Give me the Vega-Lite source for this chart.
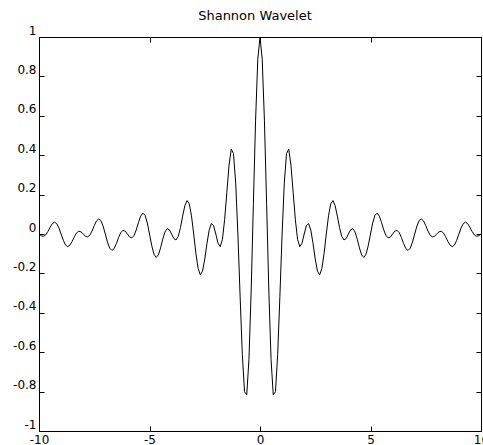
{
  "$schema": "https://vega.github.io/schema/vega-lite/v6.json",
  "width": 442,
  "height": 394,
  "autosize": "none",
  "padding": {"left": 39, "top": 37, "right": 2, "bottom": 14},
  "background": "white",
  "title": {
    "text": "Shannon Wavelet",
    "font": "DejaVu Sans",
    "fontSize": 13,
    "fontWeight": "normal",
    "color": "#000000",
    "anchor": "middle",
    "dx": -5,
    "offset": 1
  },
  "config": {
    "view": {"stroke": "#000000", "strokeWidth": 1},
    "axis": {
      "domainColor": "#000000",
      "domainWidth": 1,
      "tickColor": "#000000",
      "tickWidth": 1,
      "tickSize": -5,
      "grid": false,
      "title": null,
      "labelFont": "DejaVu Sans",
      "labelFontSize": 12,
      "labelColor": "#000000",
      "labelFlush": false,
      "labelOverlap": false,
      "labelBound": false
    }
  },
  "data": {
    "values": [
      {"t": -10, "psi": 0}, {"t": -9.9, "psi": -0.009}, {"t": -9.8, "psi": -0.0118}, {"t": -9.7, "psi": -0.0047},
      {"t": -9.6, "psi": 0.012}, {"t": -9.5, "psi": 0.0335}, {"t": -9.4, "psi": 0.0521}, {"t": -9.3, "psi": 0.0602},
      {"t": -9.2, "psi": 0.0532}, {"t": -9.1, "psi": 0.0314}, {"t": -9, "psi": 0}, {"t": -8.9, "psi": -0.0321},
      {"t": -8.8, "psi": -0.0557}, {"t": -8.7, "psi": -0.0644}, {"t": -8.6, "psi": -0.057}, {"t": -8.5, "psi": -0.0374},
      {"t": -8.4, "psi": -0.0138}, {"t": -8.3, "psi": 0.0054}, {"t": -8.2, "psi": 0.0141}, {"t": -8.1, "psi": 0.011},
      {"t": -8, "psi": 0}, {"t": -7.9, "psi": -0.0112}, {"t": -7.8, "psi": -0.0148}, {"t": -7.7, "psi": -0.0059},
      {"t": -7.6, "psi": 0.0152}, {"t": -7.5, "psi": 0.0424}, {"t": -7.4, "psi": 0.0662}, {"t": -7.3, "psi": 0.0767},
      {"t": -7.2, "psi": 0.068}, {"t": -7.1, "psi": 0.0402}, {"t": -7, "psi": 0}, {"t": -6.9, "psi": -0.0414},
      {"t": -6.8, "psi": -0.072}, {"t": -6.7, "psi": -0.0836}, {"t": -6.6, "psi": -0.0742}, {"t": -6.5, "psi": -0.049},
      {"t": -6.4, "psi": -0.0181}, {"t": -6.3, "psi": 0.0072}, {"t": -6.2, "psi": 0.0187}, {"t": -6.1, "psi": 0.0145},
      {"t": -6, "psi": 0}, {"t": -5.9, "psi": -0.015}, {"t": -5.8, "psi": -0.0199}, {"t": -5.7, "psi": -0.0079},
      {"t": -5.6, "psi": 0.0206}, {"t": -5.5, "psi": 0.0579}, {"t": -5.4, "psi": 0.0907}, {"t": -5.3, "psi": 0.1057},
      {"t": -5.2, "psi": 0.0942}, {"t": -5.1, "psi": 0.056}, {"t": -5, "psi": 0}, {"t": -4.9, "psi": -0.0583},
      {"t": -4.8, "psi": -0.102}, {"t": -4.7, "psi": -0.1192}, {"t": -4.6, "psi": -0.1065}, {"t": -4.5, "psi": -0.0707},
      {"t": -4.4, "psi": -0.0263}, {"t": -4.3, "psi": 0.0105}, {"t": -4.2, "psi": 0.0275}, {"t": -4.1, "psi": 0.0216},
      {"t": -4, "psi": 0}, {"t": -3.9, "psi": -0.0228}, {"t": -3.8, "psi": -0.0304}, {"t": -3.7, "psi": -0.0122},
      {"t": -3.6, "psi": 0.0321}, {"t": -3.5, "psi": 0.0909}, {"t": -3.4, "psi": 0.1441}, {"t": -3.3, "psi": 0.1698},
      {"t": -3.2, "psi": 0.1531}, {"t": -3.1, "psi": 0.0921}, {"t": -3, "psi": 0}, {"t": -2.9, "psi": -0.0984},
      {"t": -2.8, "psi": -0.1749}, {"t": -2.7, "psi": -0.2075}, {"t": -2.6, "psi": -0.1884}, {"t": -2.5, "psi": -0.1273},
      {"t": -2.4, "psi": -0.0482}, {"t": -2.3, "psi": 0.0197}, {"t": -2.2, "psi": 0.0526}, {"t": -2.1, "psi": 0.0423},
      {"t": -2, "psi": 0}, {"t": -1.9, "psi": -0.0467}, {"t": -1.8, "psi": -0.0642}, {"t": -1.7, "psi": -0.0266},
      {"t": -1.6, "psi": 0.0723}, {"t": -1.5, "psi": 0.2122}, {"t": -1.4, "psi": 0.3499}, {"t": -1.3, "psi": 0.431},
      {"t": -1.2, "psi": 0.4082}, {"t": -1.1, "psi": 0.2595}, {"t": -1, "psi": 0}, {"t": -0.9, "psi": -0.3172},
      {"t": -0.8, "psi": -0.6123}, {"t": -0.7, "psi": -0.8004}, {"t": -0.6, "psi": -0.8164}, {"t": -0.5, "psi": -0.6366},
      {"t": -0.4, "psi": -0.2891}, {"t": -0.3, "psi": 0.1507}, {"t": -0.2, "psi": 0.5782}, {"t": -0.1, "psi": 0.8873},
      {"t": 0, "psi": 1},
      {"t": 0.1, "psi": 0.8873}, {"t": 0.2, "psi": 0.5782}, {"t": 0.3, "psi": 0.1507}, {"t": 0.4, "psi": -0.2891},
      {"t": 0.5, "psi": -0.6366}, {"t": 0.6, "psi": -0.8164}, {"t": 0.7, "psi": -0.8004}, {"t": 0.8, "psi": -0.6123},
      {"t": 0.9, "psi": -0.3172}, {"t": 1, "psi": 0}, {"t": 1.1, "psi": 0.2595}, {"t": 1.2, "psi": 0.4082},
      {"t": 1.3, "psi": 0.431}, {"t": 1.4, "psi": 0.3499}, {"t": 1.5, "psi": 0.2122}, {"t": 1.6, "psi": 0.0723},
      {"t": 1.7, "psi": -0.0266}, {"t": 1.8, "psi": -0.0642}, {"t": 1.9, "psi": -0.0467}, {"t": 2, "psi": 0},
      {"t": 2.1, "psi": 0.0423}, {"t": 2.2, "psi": 0.0526}, {"t": 2.3, "psi": 0.0197}, {"t": 2.4, "psi": -0.0482},
      {"t": 2.5, "psi": -0.1273}, {"t": 2.6, "psi": -0.1884}, {"t": 2.7, "psi": -0.2075}, {"t": 2.8, "psi": -0.1749},
      {"t": 2.9, "psi": -0.0984}, {"t": 3, "psi": 0}, {"t": 3.1, "psi": 0.0921}, {"t": 3.2, "psi": 0.1531},
      {"t": 3.3, "psi": 0.1698}, {"t": 3.4, "psi": 0.1441}, {"t": 3.5, "psi": 0.0909}, {"t": 3.6, "psi": 0.0321},
      {"t": 3.7, "psi": -0.0122}, {"t": 3.8, "psi": -0.0304}, {"t": 3.9, "psi": -0.0228}, {"t": 4, "psi": 0},
      {"t": 4.1, "psi": 0.0216}, {"t": 4.2, "psi": 0.0275}, {"t": 4.3, "psi": 0.0105}, {"t": 4.4, "psi": -0.0263},
      {"t": 4.5, "psi": -0.0707}, {"t": 4.6, "psi": -0.1065}, {"t": 4.7, "psi": -0.1192}, {"t": 4.8, "psi": -0.102},
      {"t": 4.9, "psi": -0.0583}, {"t": 5, "psi": 0}, {"t": 5.1, "psi": 0.056}, {"t": 5.2, "psi": 0.0942},
      {"t": 5.3, "psi": 0.1057}, {"t": 5.4, "psi": 0.0907}, {"t": 5.5, "psi": 0.0579}, {"t": 5.6, "psi": 0.0206},
      {"t": 5.7, "psi": -0.0079}, {"t": 5.8, "psi": -0.0199}, {"t": 5.9, "psi": -0.015}, {"t": 6, "psi": 0},
      {"t": 6.1, "psi": 0.0145}, {"t": 6.2, "psi": 0.0187}, {"t": 6.3, "psi": 0.0072}, {"t": 6.4, "psi": -0.0181},
      {"t": 6.5, "psi": -0.049}, {"t": 6.6, "psi": -0.0742}, {"t": 6.7, "psi": -0.0836}, {"t": 6.8, "psi": -0.072},
      {"t": 6.9, "psi": -0.0414}, {"t": 7, "psi": 0}, {"t": 7.1, "psi": 0.0402}, {"t": 7.2, "psi": 0.068},
      {"t": 7.3, "psi": 0.0767}, {"t": 7.4, "psi": 0.0662}, {"t": 7.5, "psi": 0.0424}, {"t": 7.6, "psi": 0.0152},
      {"t": 7.7, "psi": -0.0059}, {"t": 7.8, "psi": -0.0148}, {"t": 7.9, "psi": -0.0112}, {"t": 8, "psi": 0},
      {"t": 8.1, "psi": 0.011}, {"t": 8.2, "psi": 0.0141}, {"t": 8.3, "psi": 0.0054}, {"t": 8.4, "psi": -0.0138},
      {"t": 8.5, "psi": -0.0374}, {"t": 8.6, "psi": -0.057}, {"t": 8.7, "psi": -0.0644}, {"t": 8.8, "psi": -0.0557},
      {"t": 8.9, "psi": -0.0321}, {"t": 9, "psi": 0}, {"t": 9.1, "psi": 0.0314}, {"t": 9.2, "psi": 0.0532},
      {"t": 9.3, "psi": 0.0602}, {"t": 9.4, "psi": 0.0521}, {"t": 9.5, "psi": 0.0335}, {"t": 9.6, "psi": 0.012},
      {"t": 9.7, "psi": -0.0047}, {"t": 9.8, "psi": -0.0118}, {"t": 9.9, "psi": -0.009}, {"t": 10, "psi": 0}
    ]
  },
  "layer": [
    {
      "mark": {"type": "line", "color": "#000000", "strokeWidth": 1, "clip": true},
      "encoding": {
        "x": {
          "field": "t",
          "type": "quantitative",
          "scale": {"domain": [-10, 10], "nice": false, "zero": false},
          "axis": {
            "orient": "bottom",
            "values": [-10, -5, 0, 5, 10],
            "labelPadding": 8,
            "labelBaseline": "top",
            "labelExpr": "datum.value < 0 ? '-' + format(-datum.value, 'd') : format(datum.value, 'd')"
          }
        },
        "y": {
          "field": "psi",
          "type": "quantitative",
          "scale": {"domain": [-1, 1], "nice": false, "zero": false},
          "axis": {
            "orient": "left",
            "values": [-1, -0.8, -0.6, -0.4, -0.2, 0, 0.2, 0.4, 0.6, 0.8, 1],
            "labelPadding": 8,
            "labelBaseline": "alphabetic",
            "labelOffset": -3,
            "labelExpr": "datum.value < 0 ? '-' + format(-datum.value, '.1~f') : format(datum.value, '.1~f')"
          }
        }
      }
    },
    {
      "mark": {"type": "line", "strokeOpacity": 0},
      "encoding": {
        "x": {
          "field": "t",
          "type": "quantitative",
          "axis": {"orient": "top", "values": [-10, -5, 0, 5, 10], "labels": false}
        },
        "y": {
          "field": "psi",
          "type": "quantitative",
          "axis": {"orient": "right", "values": [-1, -0.8, -0.6, -0.4, -0.2, 0, 0.2, 0.4, 0.6, 0.8, 1], "labels": false}
        }
      }
    }
  ],
  "resolve": {"axis": {"x": "independent", "y": "independent"}}
}
